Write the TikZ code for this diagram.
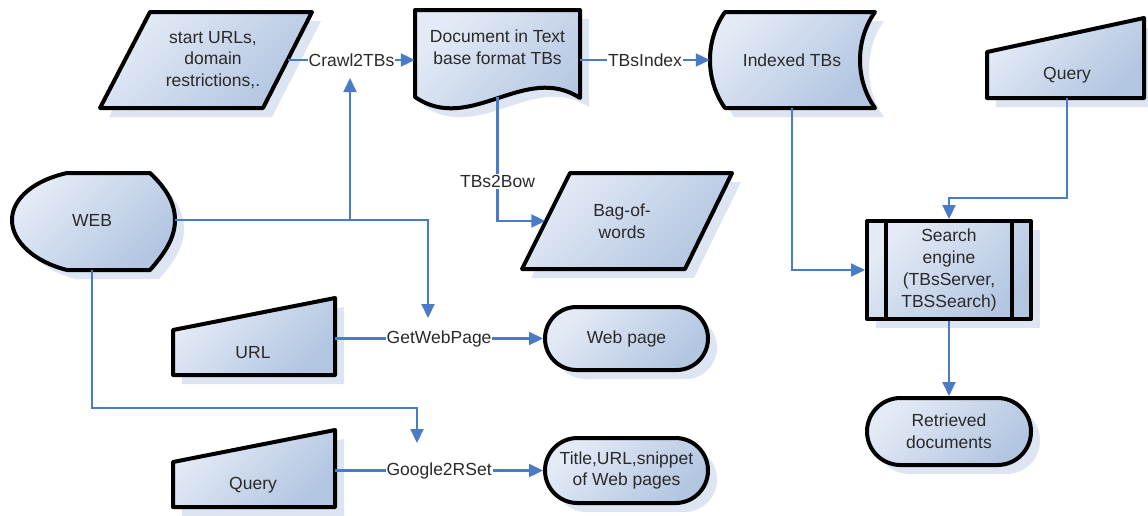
\documentclass[tikz,border=0pt]{standalone}
\usepackage{fontspec}
\setmainfont{Liberation Sans}
\usetikzlibrary{arrows.meta,shapes.misc,shadows,calc}
\definecolor{shadowc}{HTML}{DCE5F1}
\definecolor{fillA}{HTML}{E4EBF6}
\definecolor{fillB}{HTML}{B2C5E1}
\definecolor{connc}{HTML}{4A7BC8}
\definecolor{txtc}{HTML}{2A2A2A}
\newcommand\shapepath[1]{\fill[shadowc,shift={(9,9)}] #1; \draw[shp] #1;}
\begin{document}
\begin{tikzpicture}[x=1pt,y=-1pt,
  txt/.style={font=\fontsize{17.5}{21.7}\selectfont, text=txtc, align=center, inner sep=0pt},
  shp/.style={draw=black, line width=4pt, line join=round, top color=fillA, bottom color=fillB, shading angle=45},
  box/.style={txt, shp, drop shadow={shadow xshift=9pt, shadow yshift=-9pt, fill=shadowc, opacity=1}},
  conn/.style={draw=connc, line width=2.2pt},
  arr/.style={conn, -{Triangle[length=14pt,width=13pt]}},
  lbl/.style={txt, fill=white, inner sep=1pt}]
\useasboundingbox (0,0) rectangle (1148,515);

% custom outline shapes
\shapepath{(150,12)--(312,12)--(263,108)--(100,108)--cycle}
\shapepath{(415,10)--(580,10)--(580,98) .. controls (525,62) and (470,135) .. (415,97) -- cycle}
\shapepath{(725,12)--(875,12) .. controls (855,40) and (855,80) .. (875,108) -- (725,108) .. controls (705,80) and (705,40) .. (725,12) -- cycle}
\shapepath{(987,52)--(1144,18)--(1144,98)--(987,98)--cycle}
\shapepath{(67,173)--(150,173) .. controls (166,188) and (175,203) .. (175,220) .. controls (175,237) and (166,252) .. (150,270) -- (67,270) .. controls (35,262) and (12,242) .. (12,220) .. controls (12,198) and (35,180) .. (67,173) -- cycle}
\shapepath{(570,173)--(732,173)--(685,269)--(522,269)--cycle}
\shapepath{(173,330)--(335,298)--(335,375)--(173,375)--cycle}
\shapepath{(173,462)--(335,430)--(335,507)--(173,507)--cycle}

% text nodes of custom shapes
\node[txt, minimum width=150, minimum height=96] (start) at (213,60) {start URLs,\\domain\\restrictions,.};
\node[txt, minimum width=165, minimum height=100] (doc) at (497.5,47) {Document in Text\\base format TBs};
\node[txt, minimum width=164, minimum height=96] (idx) at (792,60) {Indexed TBs};
\node[txt, minimum width=150, minimum height=46] (qtop) at (1067,75) {Query};
\node[txt, minimum width=166, minimum height=100] (web) at (92,220) {WEB};
\node[txt, minimum width=153, minimum height=60] (bag) at (622,221) {Bag-of-\\words};
\node[txt, minimum width=164, minimum height=40] (url) at (253,353) {URL};
\node[txt, minimum width=164, minimum height=40] (qbot) at (253,485) {Query};

% node shapes
\node[box, rounded rectangle, minimum width=163, minimum height=63] (webpage) at (626.5,338.5) {Web page};
\node[box, rounded rectangle, minimum width=163, minimum height=65] (title) at (626.5,470.5) {Title,URL,snippet\\of Web pages};
\node[box, rectangle, minimum width=164, minimum height=98] (se) at (949,270) {Search\\engine\\(TBsServer,\\TBSSearch)};
\draw[line width=4pt] ([xshift=21]se.north west) -- ([xshift=21]se.south west);
\draw[line width=4pt] ([xshift=-21]se.north east) -- ([xshift=-21]se.south east);
\node[box, rounded rectangle, minimum width=164, minimum height=67] (ret) at (949,431.5) {Retrieved\\documents};

% helper coordinates for free ends
\coordinate (j1) at (350,220);
\coordinate (crawlin) at (350,78);
\coordinate (gwpin) at (428,318);
\coordinate (gin) at (417,443);

% connectors
\draw[arr] (start.east) -- node[lbl] (crawl) {Crawl2TBs} (start.east -| doc.west);
\draw[arr] (j1) -- (crawlin);
\draw[arr] (web.east) -| (gwpin);
\draw[arr] (doc.east |- idx.west) -- node[lbl] (tbsindex) {TBsIndex} (idx.west);
\draw[arr] (doc.south) |- node[lbl, pos=0.34] (tbs2bow) {TBs2Bow} (bag.west);
\draw[arr] (idx.south) |- (se.west);
\draw[arr] (qtop.south) -- ++(0,100) -| (se.north);
\draw[arr] (se.south) -- (ret.north);
\draw[arr] (url.east |- webpage.west) -- node[lbl] (gwp) {GetWebPage} (webpage.west);
\draw[arr] (web.south) -- ++(0,138) -| (gin);
\draw[arr] (qbot.east |- title.west) -- node[lbl] (g2r) {Google2RSet} (title.west);
\end{tikzpicture}
\end{document}
